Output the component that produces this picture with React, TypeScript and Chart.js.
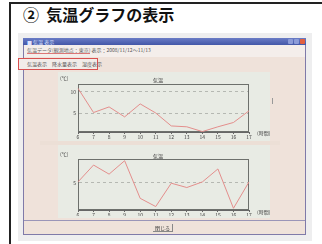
import React, { useEffect, useRef } from 'react';
import { Chart, registerables } from 'chart.js';
Chart.register(...registerables);

const FONT = '"Noto Sans CJK JP", "Noto Sans", sans-serif';

const hours = ['6', '7', '8', '9', '10', '11', '12', '13', '14', '15', '16', '17'];
const tempTop = [10.8, 5.2, 6.5, 4.2, 7.2, 5.1, 2.1, 1.9, 0.8, 1.9, 2.9, 5.6];
const tempBottom = [5.2, 9.1, 7.0, 10.1, 1.4, -0.5, 4.9, 3.9, 5.2, 8.2, -0.9, 5.2];
const topYTicks = [5, 10];
const bottomYTicks = [5];
const chartTitle = '気温';
const yUnit = '(℃)';
const xUnit = '(時間)';

const frameBorder = {
  id: 'frameBorder',
  beforeDatasetsDraw(chart: any) {
    const { ctx, chartArea } = chart;
    const { left, top, right, bottom } = chartArea;
    ctx.save();
    ctx.strokeStyle = '#6d706c';
    ctx.lineWidth = 1;
    ctx.strokeRect(Math.round(left) + 0.5, Math.round(top) + 0.5, Math.round(right - left) - 1, Math.round(bottom - top) - 1);
    ctx.restore();
  },
};

function TempChart(props: { values: number[]; yTicks: number[]; min: number; max: number; w: number; h: number; padTop: number; xH: number }) {
  const ref = useRef<HTMLCanvasElement>(null);
  useEffect(() => {
    if (!ref.current) return;
    const chart = new Chart(ref.current, {
      type: 'line',
      data: {
        labels: hours,
        datasets: [
          {
            data: props.values,
            borderColor: '#e38e8c',
            borderWidth: 1,
            pointRadius: 0,
            tension: 0,
          },
        ],
      },
      options: {
        animation: false,
        responsive: false,
        maintainAspectRatio: false,
        layout: { padding: { left: 0, right: 21, top: props.padTop, bottom: 0 } },
        plugins: { legend: { display: false }, tooltip: { enabled: false }, title: { display: false } },
        scales: {
          x: {
            offset: false,
            grid: { display: true, drawOnChartArea: false, drawTicks: true, tickLength: 2, color: '#666' },
            border: { display: true, color: '#666' },
            ticks: { font: { size: 5, family: FONT }, color: '#444', padding: 0, maxRotation: 0, autoSkip: false },
            afterFit(s: any) {
              s.height = props.xH;
            },
          },
          y: {
            min: props.min,
            max: props.max,
            afterBuildTicks(s: any) {
              s.ticks = props.yTicks.map((v) => ({ value: v }));
            },
            grid: { drawTicks: false, color: '#b5b8b2', lineWidth: 1 },
            border: { display: true, color: '#666', dash: [3, 3] },
            ticks: { font: { size: 5, family: FONT }, color: '#444', padding: 2 },
            afterFit(s: any) {
              s.width = 20;
            },
          },
        },
      },
      plugins: [frameBorder],
    });
    return () => chart.destroy();
  }, []);
  return <canvas ref={ref} width={props.w} height={props.h} style={{ width: props.w, height: props.h, display: 'block' }} />;
}

const abs = (l: number, t: number, w: number, h: number, extra: any = {}) => ({
  position: 'absolute' as const,
  left: l,
  top: t,
  width: w,
  height: h,
  ...extra,
});

export default function App() {
  useEffect(() => {
    document.body.style.margin = '0';
  }, []);
  const small = { fontFamily: FONT, fontSize: 5, lineHeight: '6px', color: '#444', whiteSpace: 'nowrap' as const };
  return (
    <div style={{ position: 'relative', width: 322, height: 244, background: '#fff', overflow: 'hidden', fontFamily: FONT }}>
      {/* document frame */}
      <div style={abs(9, 2, 313, 1.5, { background: '#222' })} />
      <div style={abs(9, 2, 1.5, 242, { background: '#222' })} />
      <div style={abs(23, 4, 200, 20, { fontSize: 16, fontWeight: 'bold', lineHeight: '20px', color: '#111', whiteSpace: 'nowrap' })}>
        ②&nbsp;&nbsp;気温グラフの表示
      </div>
      {/* screenshot shadow */}
      <div style={abs(18, 33, 294, 208, { background: '#eeeeef' })} />
      {/* window */}
      <div style={abs(23, 38, 283, 197, { background: '#efe2da', border: '1px solid #7f7aa9', boxSizing: 'border-box' })} />
      <div style={abs(23, 38, 283, 7, { background: 'linear-gradient(#6a7cc6,#4357a8)' })} />
      <div style={{ ...abs(27, 38.5, 60, 6), ...small, color: '#dfe4ff' }}>■ 気温 表示</div>
      <div style={abs(288, 39, 5, 5, { background: '#8b9bd8', borderRadius: 1 })} />
      <div style={abs(294, 39, 5, 5, { background: '#8b9bd8', borderRadius: 1 })} />
      <div style={abs(300, 39, 5, 5, { background: '#e2603f', borderRadius: 1 })} />
      <div style={abs(24, 45, 281, 12, { background: '#f4eeeb' })} />
      <div style={{ ...abs(27, 47, 200, 6), ...small, color: '#555' }}>
        <span style={{ borderBottom: '1px solid #d77', color: '#666' }}>気温データ(観測地点：東京)</span> 表示：2008/11/12～11/13
      </div>
      <div style={abs(18, 58, 80, 12, { border: '1.5px solid #d85050', boxSizing: 'border-box', background: '#f1ece9' })} />
      <div style={{ ...abs(27, 61, 70, 6), ...small, color: '#555' }}>気温表示　降水量表示　湿度表示</div>
      {/* chart panel */}
      <div style={abs(58, 72, 212, 146, { background: '#e8ebe4' })} />
      <div style={abs(40, 141, 240, 4, { background: '#ecdfd6' })} />
      <div style={abs(272, 98, 1, 6, { background: '#999' })} />
      {/* top chart */}
      <div style={abs(58, 72, 212, 68)}>
        <TempChart values={tempTop} yTicks={topYTicks} min={0.7} max={11.8} w={212} h={68} padTop={12} xH={8} />
      </div>
      <div style={{ ...abs(60, 75, 12, 6), ...small }}>{yUnit}</div>
      <div style={{ ...abs(148, 77, 20, 6), ...small, textAlign: 'center', color: '#333' }}>{chartTitle}</div>
      <div style={{ ...abs(257, 130, 14, 6), ...small }}>{xUnit}</div>
      {/* bottom chart */}
      <div style={abs(58, 146, 212, 70)}>
        <TempChart values={tempBottom} yTicks={bottomYTicks} min={-1.3} max={10.5} w={212} h={70} padTop={13} xH={6} />
      </div>
      <div style={{ ...abs(60, 151, 12, 6), ...small }}>{yUnit}</div>
      <div style={{ ...abs(148, 153, 20, 6), ...small, textAlign: 'center', color: '#333' }}>{chartTitle}</div>
      <div style={{ ...abs(257, 209, 14, 6), ...small }}>{xUnit}</div>
      {/* bottom band */}
      <div style={abs(24, 220, 281, 1, { background: '#9a95b8' })} />
      <div style={abs(153, 224, 20, 8, { borderRight: '1px solid #888', borderBottom: '1px solid #888', boxSizing: 'border-box' })} />
      <div style={{ ...abs(153, 225, 19, 6), ...small, textAlign: 'center', color: '#333' }}>閉じる</div>
    </div>
  );
}
